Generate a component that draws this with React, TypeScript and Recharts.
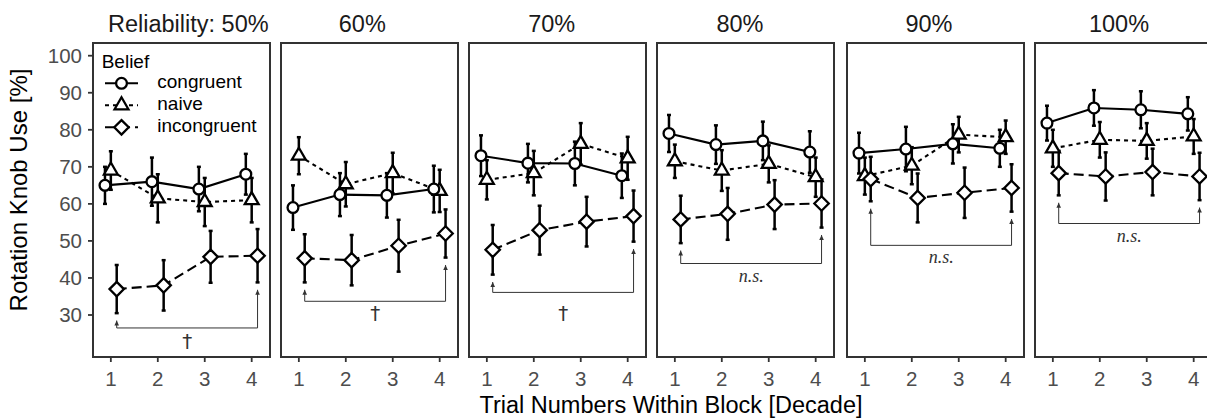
import {
  ComposedChart,
  Line,
  XAxis,
  YAxis,
  ErrorBar,
  ReferenceArea,
  ReferenceLine,
  ReferenceDot,
  Legend,
} from 'recharts';

// values (mean knob use %, error = half bar length)
const trials = [1, 2, 3, 4];
const reliabilities = ['Reliability: 50%', '60%', '70%', '80%', '90%', '100%'];
const yTicks = [30, 40, 50, 60, 70, 80, 90, 100];

const congruentMean = [
  [65, 66, 64, 68],
  [59, 62.5, 62.3, 64],
  [73, 71, 70.9, 67.6],
  [79, 76, 77, 74],
  [73.7, 74.8, 76.2, 75],
  [81.8, 85.9, 85.4, 84.3],
];
const congruentErr = [
  [5, 6.5, 6, 5.5],
  [6, 5.8, 6, 6.3],
  [5.5, 5.2, 5.9, 6],
  [5, 5.2, 5.2, 5.6],
  [5.5, 6, 5.3, 5],
  [4.7, 4.8, 5, 4.5],
];
const naiveMean = [
  [69, 61.5, 60.5, 61],
  [73, 65.3, 68.3, 63.5],
  [66.5, 68.3, 76.2, 72.3],
  [71.5, 69, 70.8, 67.2],
  [67.5, 70.3, 78.7, 78],
  [75, 77.3, 77, 78.2],
];
const naiveErr = [
  [5.2, 6.5, 6.5, 6],
  [5, 6, 5.5, 5.7],
  [5.3, 6, 5.6, 5.8],
  [4.5, 5.5, 5, 5.3],
  [5, 5, 4.8, 4.5],
  [5, 4.8, 4.8, 4.7],
];
const incongruentMean = [
  [37, 38, 45.7, 46],
  [45.3, 44.8, 48.7, 52],
  [47.6, 52.9, 55.2, 56.7],
  [55.8, 57.3, 59.8, 60.1],
  [66.7, 61.6, 63, 64.3],
  [68.3, 67.4, 68.6, 67.4],
];
const incongruentErr = [
  [6.5, 6.8, 7, 7.2],
  [6.5, 6.8, 7, 6.5],
  [6.7, 6.6, 6.7, 6.9],
  [6.4, 7, 6.6, 6.5],
  [6, 6.6, 6.8, 6.4],
  [6, 6.5, 6.3, 6.4],
];

// trial 1 vs trial 4 comparison of the incongruent group
const sigText = ['\u2020', '\u2020', '\u2020', 'n.s.', 'n.s.', 'n.s.'];
const sigBracketY = [26.5, 33.7, 36.1, 43.9, 48.8, 54.7];
const sigLabelY = [22.9, 30.6, 30.6, 40.6, 45.7, 51.2];

const X_DOMAIN: [number, number] = [0.62, 4.39];
const Y_DOMAIN: [number, number] = [18.66, 103.43];
const DODGE = 0.125;

const frameLeft = [93, 280.5, 469, 656.5, 846.5, 1035];
const FRAME_W = 177;
const titleX = [188.3, 362.3, 551.7, 740, 929, 1119];

const FONT = '"Liberation Sans", Arial, sans-serif';
const GREY20 = '#333333';
const LINE_W = 2.1;
const MARK_W = 2.3;

const rows = (mean: number[], err: number[], shift: number) =>
  trials.map((t, i) => ({ x: t + shift, y: mean[i], e: err[i] }));

const circleDot = (p: any) => (
  <circle key={p.key} cx={p.cx} cy={p.cy} r={5.4} fill="#fff" stroke="#000" strokeWidth={MARK_W} />
);

const triangleDot = (p: any) => {
  const r = 8;
  const { cx, cy } = p;
  return (
    <polygon
      key={p.key}
      points={`${cx},${cy - r} ${cx + r * 0.866},${cy + r / 2} ${cx - r * 0.866},${cy + r / 2}`}
      fill="#fff"
      stroke="#000"
      strokeWidth={MARK_W}
    />
  );
};

const diamondDot = (p: any) => {
  const d = 7.2;
  const { cx, cy } = p;
  return (
    <polygon
      key={p.key}
      points={`${cx},${cy - d} ${cx + d},${cy} ${cx},${cy + d} ${cx - d},${cy}`}
      fill="#fff"
      stroke="#000"
      strokeWidth={MARK_W}
    />
  );
};

const arrowHead = (p: any) => (
  <polygon
    points={`${p.cx},${p.cy} ${p.cx + 2.3},${p.cy + 5} ${p.cx - 2.3},${p.cy + 5}`}
    fill={GREY20}
  />
);

const BeliefLegend = () => {
  const items = [
    { name: 'congruent', dash: undefined, dot: circleDot },
    { name: 'naive', dash: '4 4', dot: triangleDot },
    { name: 'incongruent', dash: '10 5', dot: diamondDot },
  ];
  return (
    <svg width={175} height={95} style={{ fontFamily: FONT, overflow: 'visible' }}>
      <text x={6.7} y={23.3} fontSize={19} fill="#000">
        Belief
      </text>
      {items.map((it, i) => {
        const cy = 38.3 + i * 22;
        return (
          <g key={it.name}>
            <line x1={10} x2={43} y1={cy} y2={cy} stroke="#000" strokeWidth={LINE_W} strokeDasharray={it.dash} />
            {it.dot({ key: 'd', cx: 26.5, cy })}
            <text x={62.3} y={cy + 5} fontSize={19} fill="#000">
              {it.name}
            </text>
          </g>
        );
      })}
    </svg>
  );
};

function Panel({ idx }: { idx: number }) {
  const first = idx === 0;
  const left = first ? 0 : frameLeft[idx] - 3;
  const width = first ? frameLeft[0] + FRAME_W + 3 : FRAME_W + 6;

  const cong = rows(congruentMean[idx], congruentErr[idx], -DODGE);
  const naive = rows(naiveMean[idx], naiveErr[idx], 0);
  const incong = rows(incongruentMean[idx], incongruentErr[idx], DODGE);

  const x1 = trials[0] + DODGE;
  const x4 = trials[3] + DODGE;
  const by = sigBracketY[idx];
  const top1 = incong[0].y - incong[0].e - 2;
  const top4 = incong[3].y - incong[3].e - 2;
  const isDagger = sigText[idx] !== 'n.s.';

  return (
    <div style={{ position: 'absolute', left, top: 0 }}>
      <ComposedChart
        width={width}
        height={419}
        margin={{ top: 43, right: 3, bottom: 32, left: first ? 0 : 3 }}
      >
        <XAxis
          dataKey="x"
          type="number"
          domain={X_DOMAIN}
          allowDataOverflow
          ticks={trials}
          axisLine={false}
          tickLine={{ stroke: GREY20, strokeWidth: 1.8 }}
          tickSize={5}
          tickMargin={9}
          height={30}
          tick={{ fill: '#4d4d4d', fontSize: 20.5, fontFamily: FONT }}
        />
        <YAxis
          type="number"
          domain={Y_DOMAIN}
          allowDataOverflow
          ticks={yTicks}
          hide={!first}
          width={93}
          axisLine={false}
          tickLine={{ stroke: GREY20, strokeWidth: 1.8 }}
          tickSize={5}
          tickMargin={6}
          tick={{ fill: '#4d4d4d', fontSize: 20.5, fontFamily: FONT }}
        />
        <ReferenceArea
          x1={X_DOMAIN[0]}
          x2={X_DOMAIN[1]}
          y1={Y_DOMAIN[0]}
          y2={Y_DOMAIN[1]}
          fill="none"
          stroke={GREY20}
          strokeWidth={2}
          fillOpacity={0}
        />

        {/* significance bracket */}
        <ReferenceLine segment={[{ x: x1, y: by }, { x: x4, y: by }]} stroke={GREY20} strokeWidth={1} />
        <ReferenceLine segment={[{ x: x1, y: by }, { x: x1, y: top1 }]} stroke={GREY20} strokeWidth={1} />
        <ReferenceLine segment={[{ x: x4, y: by }, { x: x4, y: top4 }]} stroke={GREY20} strokeWidth={1} />
        <ReferenceDot x={x1} y={top1} r={0} shape={arrowHead} />
        <ReferenceDot x={x4} y={top4} r={0} shape={arrowHead} />
        <ReferenceDot
          x={(x1 + x4) / 2}
          y={sigLabelY[idx]}
          r={0}
          shape={(p: any) => (
            <text
              x={p.cx}
              y={p.cy}
              textAnchor="middle"
              dominantBaseline="central"
              fontSize={isDagger ? 20 : 18}
              fontStyle={isDagger ? 'normal' : 'italic'}
              fontFamily={isDagger ? '"DejaVu Sans", sans-serif' : '"Liberation Serif", "Times New Roman", serif'}
              fill={GREY20}
            >
              {sigText[idx]}
            </text>
          )}
        />

        <Line
          data={naive}
          dataKey="y"
          type="linear"
          stroke="#000"
          strokeWidth={LINE_W}
          strokeDasharray="4 4"
          dot={triangleDot}
          activeDot={false}
          isAnimationActive={false}
        >
          <ErrorBar dataKey="e" direction="y" width={2} stroke="#000" strokeWidth={2.5} />
        </Line>
        <Line
          data={incong}
          dataKey="y"
          type="linear"
          stroke="#000"
          strokeWidth={LINE_W}
          strokeDasharray="10 5"
          dot={diamondDot}
          activeDot={false}
          isAnimationActive={false}
        >
          <ErrorBar dataKey="e" direction="y" width={2} stroke="#000" strokeWidth={2.5} />
        </Line>
        <Line
          data={cong}
          dataKey="y"
          type="linear"
          stroke="#000"
          strokeWidth={LINE_W}
          dot={circleDot}
          activeDot={false}
          isAnimationActive={false}
        >
          <ErrorBar dataKey="e" direction="y" width={2} stroke="#000" strokeWidth={2.5} />
        </Line>

        {first && (
          <Legend
            layout="horizontal"
            verticalAlign="middle"
            align="center"
            content={() => <BeliefLegend />}
            wrapperStyle={{ position: 'absolute', left: 95, top: 45, width: 175, height: 95 }}
          />
        )}
      </ComposedChart>
    </div>
  );
}

export default function App() {
  return (
    <div
      style={{
        position: 'absolute',
        left: 0,
        top: 0,
        width: 1207,
        height: 419,
        background: '#fff',
        overflow: 'hidden',
        fontFamily: FONT,
      }}
    >
      {reliabilities.map((r, i) => (
        <Panel key={r} idx={i} />
      ))}
      <svg
        width={1207}
        height={419}
        style={{ position: 'absolute', left: 0, top: 0, pointerEvents: 'none', fontFamily: FONT }}
      >
        {reliabilities.map((r, i) => (
          <text key={r} x={titleX[i]} y={31.5} textAnchor="middle" fontSize={23.5} fill="#1a1a1a">
            {r}
          </text>
        ))}
        <text x={671} y={413} textAnchor="middle" fontSize={23.5} fill="#000">
          Trial Numbers Within Block [Decade]
        </text>
        <text transform="translate(26.5,190) rotate(-90)" textAnchor="middle" fontSize={24} fill="#000">
          Rotation Knob Use [%]
        </text>
      </svg>
    </div>
  );
}
